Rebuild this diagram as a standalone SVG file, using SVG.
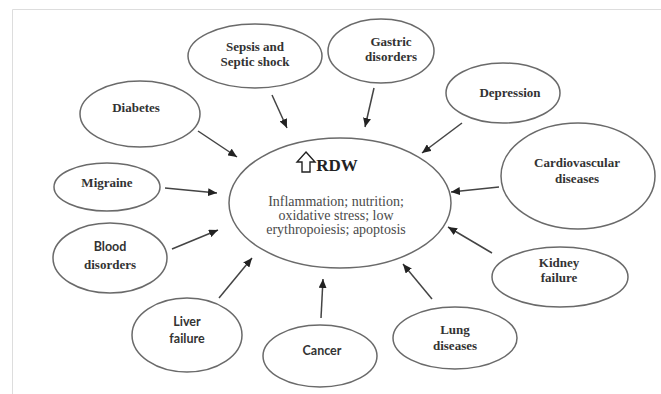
<svg xmlns="http://www.w3.org/2000/svg" width="661" height="394" viewBox="0 0 661 394">
<style>
.n{fill:#fff;stroke:#6a6a6a;stroke-width:1.5}
.t{font-family:"Liberation Serif","DejaVu Serif",serif;font-weight:bold;font-size:13px;fill:#333;text-anchor:middle}
.s{font-family:Lato,"Liberation Sans",sans-serif;font-weight:bold;font-size:12.5px;fill:#333;text-anchor:middle}
.b{font-family:"Liberation Serif","DejaVu Serif",serif;font-size:14px;fill:#4a4a4a;text-anchor:middle}
.c line{stroke:#444;stroke-width:1.5;marker-end:url(#ah)}
</style>
<defs>
<marker id="ah" markerUnits="userSpaceOnUse" markerWidth="10" markerHeight="8" refX="9" refY="4" orient="auto">
<path d="M0,0 L9,4 L0,8 Z" fill="#222"/>
</marker>
</defs>
<rect width="661" height="394" fill="#fff"/>
<path d="M12.5,394 V9.5 H661" fill="none" stroke="#ddd" stroke-width="1"/>
<g id="center">
<ellipse class="n" cx="340" cy="203" rx="111" ry="65"/>
<path d="M306,152 L315,162 L310,162 L310,172 L302,172 L302,162 L297,162 Z" fill="#fff" stroke="#222" stroke-width="1.4"/>
<text x="337" y="171" font-family="Liberation Serif,serif" font-weight="bold" font-size="17" fill="#222" text-anchor="middle">RDW</text>
<text class="b" x="336" y="206">Inflammation; nutrition;</text>
<text class="b" x="336" y="220">oxidative stress; low</text>
<text class="b" x="336" y="234">erythropoiesis; apoptosis</text>
</g>
<g id="sepsis"><ellipse class="n" cx="255" cy="56" rx="67" ry="32"/><text class="t" x="255" y="51">Sepsis and</text><text class="t" x="255" y="66">Septic shock</text></g>
<g id="gastric"><ellipse class="n" cx="381" cy="51" rx="53" ry="32"/><text class="t" x="391" y="46">Gastric</text><text class="t" x="391" y="61">disorders</text></g>
<g id="depression"><ellipse class="n" cx="503" cy="93" rx="57" ry="30"/><text class="t" x="510" y="97">Depression</text></g>
<g id="cardio"><ellipse class="n" cx="578" cy="176" rx="77" ry="53"/><text class="t" x="577" y="167">Cardiovascular</text><text class="t" x="577" y="183">diseases</text></g>
<g id="kidney"><ellipse class="n" cx="560" cy="277" rx="68" ry="30"/><text class="t" x="559" y="267">Kidney</text><text class="t" x="559" y="282">failure</text></g>
<g id="lung"><ellipse class="n" cx="455" cy="338" rx="62" ry="31"/><text class="t" x="455" y="334">Lung</text><text class="t" x="455" y="350">diseases</text></g>
<g id="cancer"><ellipse class="n" cx="320" cy="356" rx="57" ry="31"/><text class="s" x="322" y="355">Cancer</text></g>
<g id="liver"><ellipse class="n" cx="187" cy="335" rx="55" ry="37"/><text class="s" x="187" y="326">Liver</text><text class="s" x="187" y="343">failure</text></g>
<g id="blood"><ellipse class="n" cx="110" cy="258" rx="57" ry="35"/><text class="s" x="110" y="251">Blood</text><text class="t" x="110" y="269">disorders</text></g>
<g id="migraine"><ellipse class="n" cx="107" cy="187" rx="53" ry="24"/><text class="t" x="107" y="187">Migraine</text></g>
<g id="diabetes"><ellipse class="n" cx="140" cy="114" rx="60" ry="33"/><text class="t" x="136" y="112">Diabetes</text></g>
<g id="connectors" class="c">
<line x1="272" y1="95" x2="287" y2="128"/>
<line x1="374" y1="88" x2="365" y2="127"/>
<line x1="462" y1="123" x2="422" y2="153"/>
<line x1="499" y1="187" x2="451" y2="192"/>
<line x1="492" y1="253" x2="448" y2="227"/>
<line x1="432" y1="299" x2="403" y2="264"/>
<line x1="321" y1="318" x2="323" y2="279"/>
<line x1="219" y1="298" x2="252" y2="258"/>
<line x1="172" y1="249" x2="218" y2="230"/>
<line x1="165" y1="188" x2="217" y2="193"/>
<line x1="198" y1="131" x2="237" y2="157"/>
</g>
</svg>
